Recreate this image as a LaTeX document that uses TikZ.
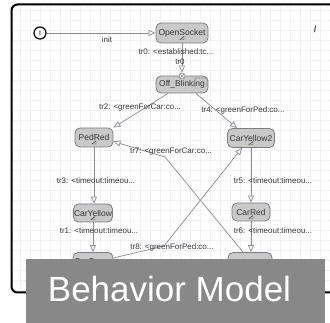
\documentclass[tikz,border=0pt]{standalone}
\usepackage{fontspec}
\setmainfont{Liberation Sans}
\usetikzlibrary{arrows.meta}

\definecolor{gridc}{RGB}{238,241,247}
\definecolor{stfill}{RGB}{201,201,201}
\definecolor{stdraw}{RGB}{125,125,125}
\definecolor{edgec}{RGB}{140,140,140}
\definecolor{txtc}{RGB}{55,55,55}
\definecolor{bannerc}{RGB}{136,136,136}

\begin{document}
\begin{tikzpicture}[x=1pt,y=-1pt,
  state/.style={draw=stdraw, fill=stfill, rounded corners=5pt, line width=0.8pt,
    minimum height=19pt, inner sep=0pt, text=txtc, font=\fontsize{8.5}{9}\selectfont},
  trans/.style={draw=edgec, line width=0.7pt,
    -{Triangle[length=7pt, width=6pt, fill=white]}},
  elabel/.style={inner sep=0pt, text=txtc, font=\fontsize{8}{9}\selectfont},
  glyph/.style={draw=txtc, line width=0.4pt},
  gridline/.style={draw=gridc, line width=0.5pt},
]
\useasboundingbox (0,0) rectangle (330,323);

% canvas: grid and frame
\foreach \gx in {20,30,...,330} \draw[gridline] (\gx,5) -- (\gx,292);
\foreach \gy in {10,20,...,290} \draw[gridline] (12,\gy) -- (330,\gy);
\draw[line width=2pt, rounded corners=6pt] (11.5,4.5) rectangle (350,292.5);

% initial pseudo-state
\node[circle, draw=black, fill=white, line width=1.2pt, minimum size=12pt, inner sep=0pt,
  font=\fontsize{7}{8}\selectfont] (init) at (40,33) {I};

% states
\node[state, minimum width=52pt, minimum height=20pt] (os) at (182,33) {OpenSocket};
\node[state, minimum width=52pt, minimum height=17pt] (ob) at (182,84.5) {Off\_Blinking};
\node[state, minimum width=38pt] (pr) at (94,137.5) {PedRed};
\node[state, minimum width=47pt] (cy2) at (251,138) {CarYellow2};
\node[state, minimum width=39pt, minimum height=18pt] (cy) at (93,213) {CarYellow};
\node[state, minimum width=38pt, minimum height=18pt] (cr) at (251,212) {CarRed};
\node[state, minimum width=40pt] (cg) at (93,262) {CarGreen};
\node[state, minimum width=44pt] (pg) at (250,262) {PedGreen};

% small glyphs under the state names
\foreach \n in {os,pr,cy2,cy,cr,cg,pg}
  \draw[glyph] ([yshift=-6.5pt]\n.center) ++(-2,0) -- ++(4,0) -- ++(0,-3) -- cycle;
% sub-machine glyph of Off_Blinking
\draw[edgec, line width=0.6pt, rounded corners=2pt] (195,87) -- (195,78) -- (207,78) -- (207,87);

% entry marker on Off_Blinking
\node[circle, draw=edgec, fill=white, line width=0.6pt, inner sep=0pt, minimum size=6pt] (obm) at (182,76) {};
\draw[edgec, line width=0.5pt] (obm.north west) -- (obm.south east) (obm.north east) -- (obm.south west);

% transitions
\draw[trans] (init) -- (os.west);
\draw[trans] (os.south) -- (obm.north);
\draw[trans] ([xshift=-14pt]ob.south) -- (pr.north east);
\draw[trans] ([xshift=14pt]ob.south) -- ([xshift=-14pt]cy2.north);
\draw[trans] (pr.south) -- (pr.south |- cy.north);
\draw[trans] (cy2.south) -- (cy2.south |- cr.north);
\draw[trans] (cy.south) -- (cy.south |- cg.north);
\draw[trans] (cr.south) -- (cr.south |- pg.north);
\coordinate (b7) at (165,157);
\coordinate (b8) at (164,246);
\draw[trans] ([xshift=-7pt]pg.north) -- (b7) -- ([yshift=-4pt]pr.east);
\draw[trans] ([yshift=4pt]cg.east) -- (b8) -- ([xshift=-9pt]cy2.south);

% transition labels
\node[elabel] (linit) at (107,40) {init};
\node[elabel] (l0) at (176,52) {tr0: <established:tc...};
\node[elabel] (l0b) at (180,62) {tr0};
\node[elabel] (l2) at (140,108) {tr2: <greenForCar:co...};
\node[elabel] (l4) at (243,110) {tr4: <greenForPed:co...};
\node[elabel] (l7) at (171,152) {tr7: <greenForCar:co...};
\node[elabel] (l3) at (96,181) {tr3: <timeout:timeou...};
\node[elabel] (l5) at (273,181) {tr5: <timeout:timeou...};
\node[elabel] (l1) at (99,231) {tr1: <timeout:timeou...};
\node[elabel] (l6) at (273,231) {tr6: <timeout:timeou...};
\node[elabel] (l8) at (172,247) {tr8: <greenForPed:co...};

% cursor glyph
\node[inner sep=0pt, text=txtc, font=\bfseries\fontsize{9}{9}\selectfont] (cur) at (315,29) {/};

% caption banner
\fill[bannerc] (26,259) rectangle (325,330);
\node[anchor=base, inner sep=0pt, text=white, font=\fontsize{35}{40}\selectfont] (title) at (169.5,302) {Behavior Model};
\end{tikzpicture}
\end{document}
